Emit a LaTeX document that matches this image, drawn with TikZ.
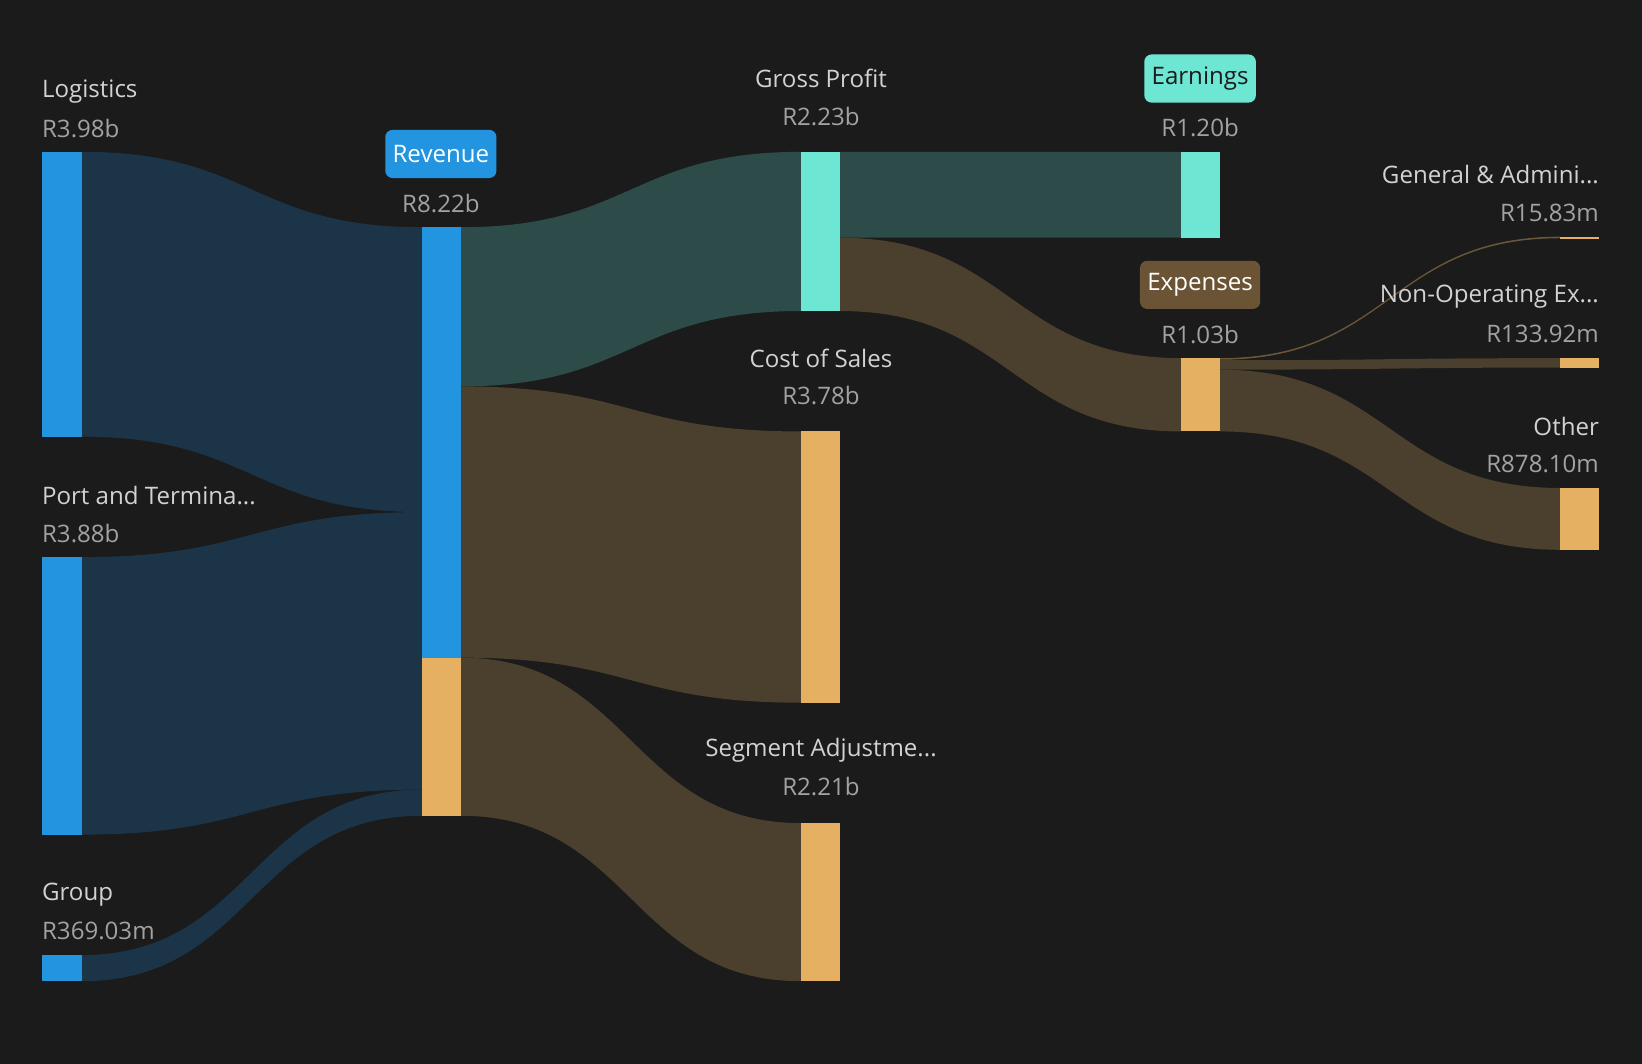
\documentclass[tikz,border=0pt]{standalone}
\usepackage{fontspec}
\setmainfont{Open Sans}
\begin{document}
\definecolor{bg}{HTML}{1B1B1B}
\definecolor{blu}{HTML}{2394E0}
\definecolor{teal}{HTML}{6EE6D4}
\definecolor{org}{HTML}{E5B062}
\definecolor{fblu}{HTML}{1C3447}
\definecolor{fteal}{HTML}{2D4B48}
\definecolor{forg}{HTML}{4B3F2D}
\definecolor{badgeb}{HTML}{6B5435}
\definecolor{ttl}{HTML}{D2D2D2}
\definecolor{val}{HTML}{A2A2A2}
\newcommand{\flow}[7]{\fill[#7] (#1,#2) .. controls ({(#1+#4)/2},#2) and ({(#1+#4)/2},#5) .. (#4,#5) -- (#4,#6) .. controls ({(#1+#4)/2},#6) and ({(#1+#4)/2},#3) .. (#1,#3) -- cycle;}
\newcommand{\sbar}[5]{\fill[#5] (#1,#2) rectangle (#3,#4);}
\begin{tikzpicture}[x=1pt,y=-1pt,
  t/.style={text=ttl,font=\fontsize{23}{26}\selectfont,inner sep=0pt},
  v/.style={text=val,font=\fontsize{23}{26}\selectfont,inner sep=0pt},
  badge/.style={rounded corners=7pt,inner xsep=7pt,minimum height=46pt,font=\fontsize{23}{26}\selectfont}]
\fill[bg] (0,0) rectangle (1568,1016);
\useasboundingbox (0,0) rectangle (1568,1016);
% flows
\flow{78}{145}{417}{403}{217}{489}{fblu}
\flow{78}{532}{797}{403}{489}{754}{fblu}
\flow{78}{912}{937}{403}{754}{779}{fblu}
\flow{440}{217}{369}{765}{145}{297}{fteal}
\flow{440}{369}{628}{765}{412}{671}{forg}
\flow{440}{628}{779}{765}{786}{937}{forg}
\flow{802}{145}{227}{1128}{145}{227}{fteal}
\flow{802}{227}{297}{1128}{342}{412}{forg}
\flow{1165}{342}{343.5}{1490}{226}{227.5}{forg!80!org}
\flow{1165}{344}{353}{1490}{342}{351}{forg}
\flow{1165}{353}{412}{1490}{466}{525}{forg}
% bars
\sbar{40}{145}{78}{417}{blu}
\sbar{40}{532}{78}{797}{blu}
\sbar{40}{912}{78}{937}{blu}
\sbar{403}{217}{440}{628}{blu}
\sbar{403}{628}{440}{779}{org}
\sbar{765}{145}{802}{297}{teal}
\sbar{765}{412}{802}{671}{org}
\sbar{765}{786}{802}{937}{org}
\sbar{1128}{145}{1165}{227}{teal}
\sbar{1128}{342}{1165}{412}{org}
\sbar{1490}{226}{1527}{228}{org}
\sbar{1490}{342}{1527}{351}{org}
\sbar{1490}{466}{1527}{525}{org}
% labels
\node[t,anchor=west] (l1) at (40,87) {Logistics};
\node[v,anchor=west] (l1v) at (40,123) {R3.98b};
\node[t,anchor=west] (l2) at (40,473) {Port and Termina...};
\node[v,anchor=west] (l2v) at (40,509) {R3.88b};
\node[t,anchor=west] (l3) at (40,854) {Group};
\node[v,anchor=west] (l3v) at (40,889) {R369.03m};
\node[badge,fill=blu,text=white] (rev) at (421,147) {Revenue};
\node[v] (revv) at (421,194) {R8.22b};
\node[t] (gp) at (784,75) {Gross Profit};
\node[v] (gpv) at (784,111) {R2.23b};
\node[t] (cs) at (784,342) {Cost of Sales};
\node[v] (csv) at (784,378) {R3.78b};
\node[t] (sa) at (784,716) {Segment Adjustme...};
\node[v] (sav) at (784,751) {R2.21b};
\node[badge,fill=teal,text=bg] (ear) at (1146,75) {Earnings};
\node[v] (earv) at (1146,122) {R1.20b};
\node[badge,fill=badgeb,text=white] (exp) at (1146,272) {Expenses};
\node[v] (expv) at (1146,319) {R1.03b};
\node[t,anchor=east] (ga) at (1527,167) {General \& Admini...};
\node[v,anchor=east] (gav) at (1527,203) {R15.83m};
\node[t,anchor=east] (no) at (1527,283) {Non-Operating Ex...};
\node[v,anchor=east] (nov) at (1527,319) {R133.92m};
\node[t,anchor=east] (ot) at (1527,407) {Other};
\node[v,anchor=east] (otv) at (1527,443) {R878.10m};
\end{tikzpicture}
\end{document}
